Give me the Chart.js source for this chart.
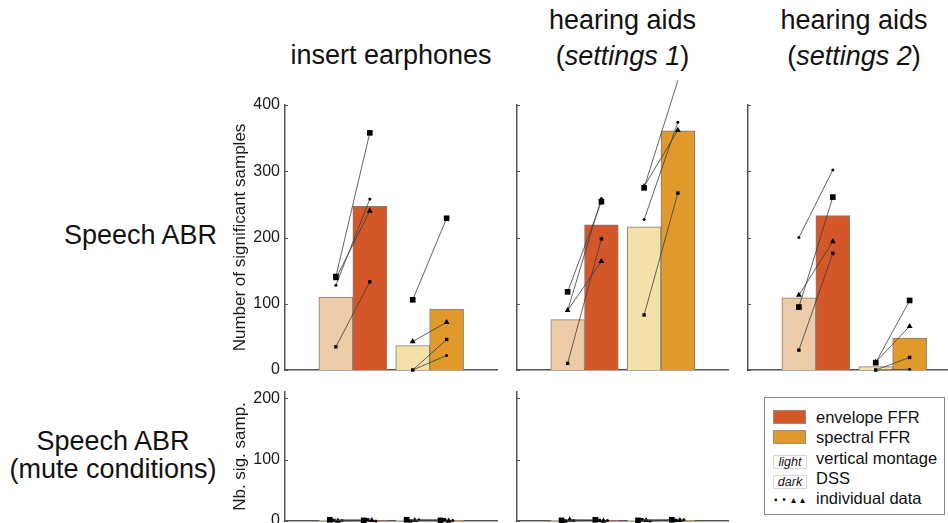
<!DOCTYPE html>
<html>
<head>
<meta charset="utf-8">
<script src="https://cdn.jsdelivr.net/npm/chart.js@4.4.0/dist/chart.umd.min.js"></script>
<style>
  html, body { margin: 0; padding: 0; background: #fff; }
  body { width: 948px; height: 523px; position: relative; overflow: hidden;
         font-family: "Liberation Sans", Arial, sans-serif; color: #111; }
  canvas { position: absolute; }
  .lbl { position: absolute; font-size: 27px; white-space: nowrap; }
  #legend { position: absolute; left: 764px; top: 397px; width: 179px; height: 116px;
            border: 1px solid #8a8a8a; background: #fff; }
  #legend div { position: absolute; }
  #legend .tx { left: 51px; font-size: 16.5px; line-height: 16.5px; }
  #legend .sw { left: 8px; width: 31px; height: 12px; border: 1px solid #9a8a80; }
  #legend .bx { left: 8px; width: 32px; height: 12px; border: 1px solid #d8d8d8;
                font-style: italic; font-size: 12.5px; line-height: 12px; text-align: center; }
</style>
</head>
<body>

<div class="lbl" style="left:285px;width:212px;top:39px;line-height:33px;text-align:center">insert earphones</div>
<div class="lbl" style="left:517px;width:211px;top:2px;line-height:36px;text-align:center">hearing aids<br>(<i>settings 1</i>)</div>
<div class="lbl" style="left:748px;width:212px;top:2px;line-height:36px;text-align:center">hearing aids<br>(<i>settings 2</i>)</div>
<div class="lbl" style="left:0;width:217px;top:219px;line-height:33px;text-align:right">Speech ABR</div>
<div class="lbl" style="left:0;width:226px;top:427px;line-height:28px;text-align:center">Speech ABR<br>(mute conditions)</div>

<div id="legend">
  <div class="sw" style="top:12px;background:#d4572a"></div><div class="tx" style="top:11px">envelope FFR</div>
  <div class="sw" style="top:32px;background:#df9a2b"></div><div class="tx" style="top:31px">spectral FFR</div>
  <div class="bx" style="top:57px">light</div><div class="tx" style="top:52px">vertical montage</div>
  <div class="bx" style="top:77px">dark</div><div class="tx" style="top:72px">DSS</div>
  <div class="tx" style="left:9px;top:94px;font-size:10px;letter-spacing:1px">▪ • ▴ ▴</div><div class="tx" style="top:92px">individual data</div>
</div>

<script>
// bar order: envelope FFR (vertical montage, DSS), spectral FFR (vertical montage, DSS)
var barNames = ['envelope FFR, vertical montage', 'envelope FFR, DSS', 'spectral FFR, vertical montage', 'spectral FFR, DSS'];
var yTicks = [0, 100, 200, 300, 400];

// speech ABR, group values (bars)
var insertBars = [110, 247, 37, 92];
var settings1Bars = [76, 219, 216, 361];
var settings2Bars = [109, 233, 5, 48];

// speech ABR, individual data, one row per subject
var insertSubjects = [
  [141, 358, 106, 229],
  [35, 133, 0, 46],
  [138, 240, 43, 72],
  [128, 258, 0, 22]
];
var settings1Subjects = [
  [118, 254, 275, 437],
  [10, 198, 83, 267],
  [90, 164, 277, 362],
  [90, 259, 227, 374]
];
var settings2Subjects = [
  [95, 261, 11, 105],
  [30, 176, 0, 19],
  [113, 194, 12, 66],
  [200, 302, 0, 1]
];

// mute conditions
var muteInsertBars = [1, 1, 1, 1];
var muteSettings1Bars = [1, 1, 1, 1];
var muteInsertSubjects = [[2, 1, 2, 1], [1, 2, 0, 2], [0, 1, 1, 0], [1, 0, 2, 1]];
var muteSettings1Subjects = [[1, 2, 1, 2], [0, 1, 2, 1], [2, 0, 1, 1], [1, 1, 0, 2]];

// layout / style
var barX = [1.5, 2.5, 3.765, 4.765];
var barColors = ['#eecba7', '#d4572a', '#f4e1a9', '#df9a2b'];
var markers = [
  { style: 'rect', r: 4 },
  { style: 'rect', r: 2.4 },
  { style: 'triangle', r: 3.4 },
  { style: 'circle', r: 1.5 }
];
var jitter = [-0.18, -0.06, 0.06, 0.18];

Chart.defaults.font.family = '"Liberation Sans", Arial, sans-serif';
Chart.defaults.color = '#1a1a1a';

var inTicks = {
  id: 'inTicks',
  afterDraw: function (chart) {
    var y = chart.scales.y, a = chart.chartArea, ctx = chart.ctx;
    ctx.save();
    ctx.strokeStyle = '#555';
    ctx.lineWidth = 1;
    y.ticks.forEach(function (t) {
      var py = Math.round(y.getPixelForValue(t.value)) + 0.5;
      ctx.beginPath(); ctx.moveTo(a.left, py); ctx.lineTo(a.left + 3, py); ctx.stroke();
    });
    ctx.restore();
  }
};

function panel(area, bars, subjects, opt) {
  var pad = { left: 10, top: 40, right: 12, bottom: 20 };
  var c = document.createElement('canvas');
  var left = area.l - opt.yw - pad.left, top = area.t - pad.top;
  var w = area.r + pad.right - left, h = area.b + pad.bottom - top;
  c.width = w; c.height = h;
  c.style.left = left + 'px'; c.style.top = top + 'px';
  document.body.insertBefore(c, document.getElementById('legend'));

  var datasets = [];
  subjects.forEach(function (s, i) {
    [0, 2].forEach(function (k) {
      var dx = opt.jit ? jitter[i] : 0;
      datasets.push({
        type: 'line',
        data: [{ x: barX[k] + dx, y: s[k] }, { x: barX[k + 1] + dx, y: s[k + 1] }],
        borderColor: '#3c3c3c',
        borderWidth: 0.8,
        pointStyle: markers[i].style,
        pointRadius: markers[i].r,
        pointBackgroundColor: '#000',
        pointBorderColor: '#000',
        pointBorderWidth: 0,
        clip: false,
        order: 0
      });
    });
  });
  datasets.push({
    type: 'bar',
    label: 'group',
    data: bars.map(function (v, k) { return { x: barX[k], y: v }; }),
    backgroundColor: barColors,
    borderColor: '#8a7a70',
    borderWidth: 1,
    barPercentage: 1,
    categoryPercentage: 1,
    order: 1
  });

  return new Chart(c, {
    type: 'bar',
    data: { datasets: datasets },
    plugins: [inTicks],
    options: {
      responsive: false,
      animation: false,
      events: [],
      layout: { padding: pad },
      plugins: { legend: { display: false }, tooltip: { enabled: false } },
      scales: {
        x: {
          type: 'linear', min: 0, max: 6.25, offset: false,
          ticks: { display: false, stepSize: 100 },
          grid: { display: false, drawTicks: false },
          border: { color: '#555', width: 1.5 },
          afterFit: function (s) { s.height = 0; }
        },
        y: {
          min: 0, max: opt.max,
          afterBuildTicks: function (s) {
            s.ticks = yTicks.filter(function (v) { return v <= opt.max; }).map(function (v) { return { value: v }; });
          },
          ticks: { display: opt.labels, padding: 5, font: { size: 16 }, color: '#1a1a1a' },
          grid: { display: false, drawTicks: false },
          border: { color: '#555', width: 1.5 },
          title: { display: !!opt.title, text: opt.title, font: { size: 17 }, color: '#1a1a1a',
                   padding: { top: 10, bottom: 0 } },
          afterFit: function (s) { s.width = opt.yw; }
        }
      }
    }
  });
}

panel({ l: 285, t: 105, r: 497, b: 370 }, insertBars, insertSubjects,
      { yw: 65, max: 400, labels: true, title: 'Number of significant samples' });
panel({ l: 517, t: 105, r: 728, b: 370 }, settings1Bars, settings1Subjects,
      { yw: 0, max: 400, labels: false });
panel({ l: 748, t: 105, r: 960, b: 370 }, settings2Bars, settings2Subjects,
      { yw: 0, max: 400, labels: false });
panel({ l: 285, t: 392, r: 497, b: 521 }, muteInsertBars, muteInsertSubjects,
      { yw: 65, max: 210, labels: true, title: 'Nb. sig. samp.', jit: true });
panel({ l: 517, t: 392, r: 728, b: 521 }, muteSettings1Bars, muteSettings1Subjects,
      { yw: 0, max: 210, labels: false, jit: true });
</script>
</body>
</html>
